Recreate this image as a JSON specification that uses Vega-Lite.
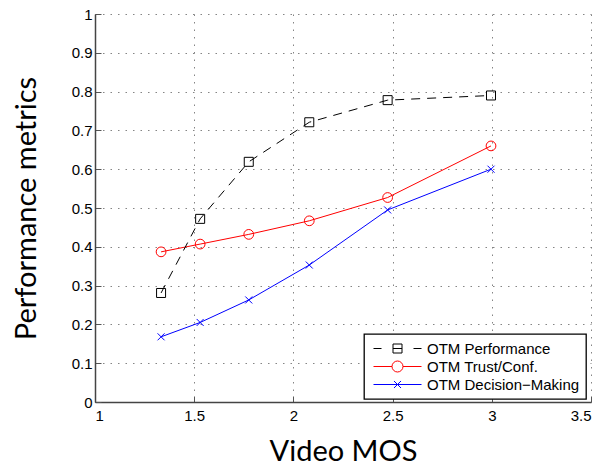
{
  "$schema": "https://vega.github.io/schema/vega-lite/v6.json",
  "width": 496,
  "height": 388,
  "autosize": {"type": "none"},
  "padding": {"left": 95, "top": 14, "right": 12, "bottom": 66},
  "config": {
    "font": "Liberation Sans",
    "view": {"stroke": null},
    "axis": {
      "labelFont": "Liberation Sans",
      "labelFontSize": 15,
      "labelColor": "black",
      "titleFont": "Lato",
      "titleFontSize": 29,
      "titleFontWeight": "normal",
      "titleColor": "black",
      "domain": true,
      "domainColor": "#444444",
      "domainWidth": 1.5,
      "tickColor": "#555555",
      "tickSize": -6,
      "gridColor": "#666666",
      "gridDash": [1.5, 6],
      "gridOpacity": 0.8
    }
  },
  "data": {
    "values": [
      {"mos": 1.333, "value": 0.281, "series": "OTM Performance"},
      {"mos": 1.53, "value": 0.472, "series": "OTM Performance"},
      {"mos": 1.775, "value": 0.619, "series": "OTM Performance"},
      {"mos": 2.08, "value": 0.721, "series": "OTM Performance"},
      {"mos": 2.475, "value": 0.778, "series": "OTM Performance"},
      {"mos": 2.996, "value": 0.79, "series": "OTM Performance"},
      {"mos": 1.333, "value": 0.387, "series": "OTM Trust/Conf."},
      {"mos": 1.53, "value": 0.407, "series": "OTM Trust/Conf."},
      {"mos": 1.775, "value": 0.432, "series": "OTM Trust/Conf."},
      {"mos": 2.08, "value": 0.467, "series": "OTM Trust/Conf."},
      {"mos": 2.475, "value": 0.527, "series": "OTM Trust/Conf."},
      {"mos": 2.996, "value": 0.66, "series": "OTM Trust/Conf."},
      {"mos": 1.333, "value": 0.168, "series": "OTM Decision\u2212Making"},
      {"mos": 1.53, "value": 0.205, "series": "OTM Decision\u2212Making"},
      {"mos": 1.775, "value": 0.263, "series": "OTM Decision\u2212Making"},
      {"mos": 2.08, "value": 0.353, "series": "OTM Decision\u2212Making"},
      {"mos": 2.475, "value": 0.495, "series": "OTM Decision\u2212Making"},
      {"mos": 2.996, "value": 0.6, "series": "OTM Decision\u2212Making"}
    ]
  },
  "encoding": {
    "x": {
      "field": "mos",
      "type": "quantitative",
      "scale": {"domain": [1, 3.5], "nice": false, "zero": false},
      "axis": {"values": [1, 1.5, 2, 2.5, 3, 3.5], "format": "~g", "title": "Video MOS", "labelPadding": 12, "titlePadding": 14}
    },
    "y": {
      "field": "value",
      "type": "quantitative",
      "scale": {"domain": [0, 1], "nice": false},
      "axis": {"values": [0, 0.1, 0.2, 0.3, 0.4, 0.5, 0.6, 0.7, 0.8, 0.9, 1], "format": "~g", "title": "Performance metrics", "labelPadding": 9, "titlePadding": 30}
    }
  },
  "layer": [
    {
      "transform": [{"filter": "datum.series != 'OTM Performance'"}],
      "mark": {"type": "line", "strokeWidth": 1},
      "encoding": {
        "color": {
          "field": "series",
          "type": "nominal",
          "scale": {
            "domain": ["OTM Performance", "OTM Trust/Conf.", "OTM Decision\u2212Making"],
            "range": ["black", "#ff0000", "#0000ff"]
          },
          "legend": {
            "title": null,
            "orient": "none",
            "legendX": 269,
            "legendY": 320,
            "padding": 6,
            "strokeColor": "black",
            "fillColor": "white",
            "labelFont": "Liberation Sans",
            "labelFontSize": 15,
            "labelColor": "black",
            "symbolSize": 256,
            "symbolOffset": 19,
            "labelOffset": 21,
            "rowPadding": 1,
            "symbolStrokeWidth": 1,
            "encode": {
              "legend": {"update": {"strokeWidth": {"value": 1.3}}},
              "symbols": {
                "update": {
                  "shape": {"signal": "datum.value == 'OTM Performance' ? 'M-3,0H-2M-0.5625,-0.5625H0.5625V0.5625H-0.5625ZM-0.5625,0H0.5625M2,0H3' : datum.value == 'OTM Trust/Conf.' ? 'M-3,0H-0.6875M0.6875,0H3M0.6875,0A0.6875,0.6875 0 1,1 -0.6875,0A0.6875,0.6875 0 1,1 0.6875,0Z' : 'M-3,0H3M-0.44,-0.44L0.44,0.44M-0.44,0.44L0.44,-0.44'"},
                  "fill": {"value": "transparent"}
                }
              }
            }
          }
        }
      }
    },
    {
      "transform": [{"filter": "datum.series == 'OTM Performance'"}],
      "mark": {"type": "line", "strokeWidth": 1, "color": "black", "strokeDash": [9, 7]}
    },
    {
      "transform": [{"filter": "datum.series == 'OTM Performance'"}],
      "mark": {"type": "point", "filled": false, "strokeWidth": 1, "opacity": 1, "shape": "square", "size": 81, "color": "black"}
    },
    {
      "transform": [{"filter": "datum.series == 'OTM Trust/Conf.'"}],
      "mark": {"type": "point", "filled": false, "strokeWidth": 1, "opacity": 1, "shape": "circle", "size": 95, "color": "#ff0000"}
    },
    {
      "transform": [{"filter": "datum.series == 'OTM Decision\u2212Making'"}],
      "mark": {"type": "point", "filled": false, "strokeWidth": 1, "opacity": 1, "shape": "M-1,-1L1,1M-1,1L1,-1", "size": 49, "color": "#0000ff"}
    }
  ]
}
